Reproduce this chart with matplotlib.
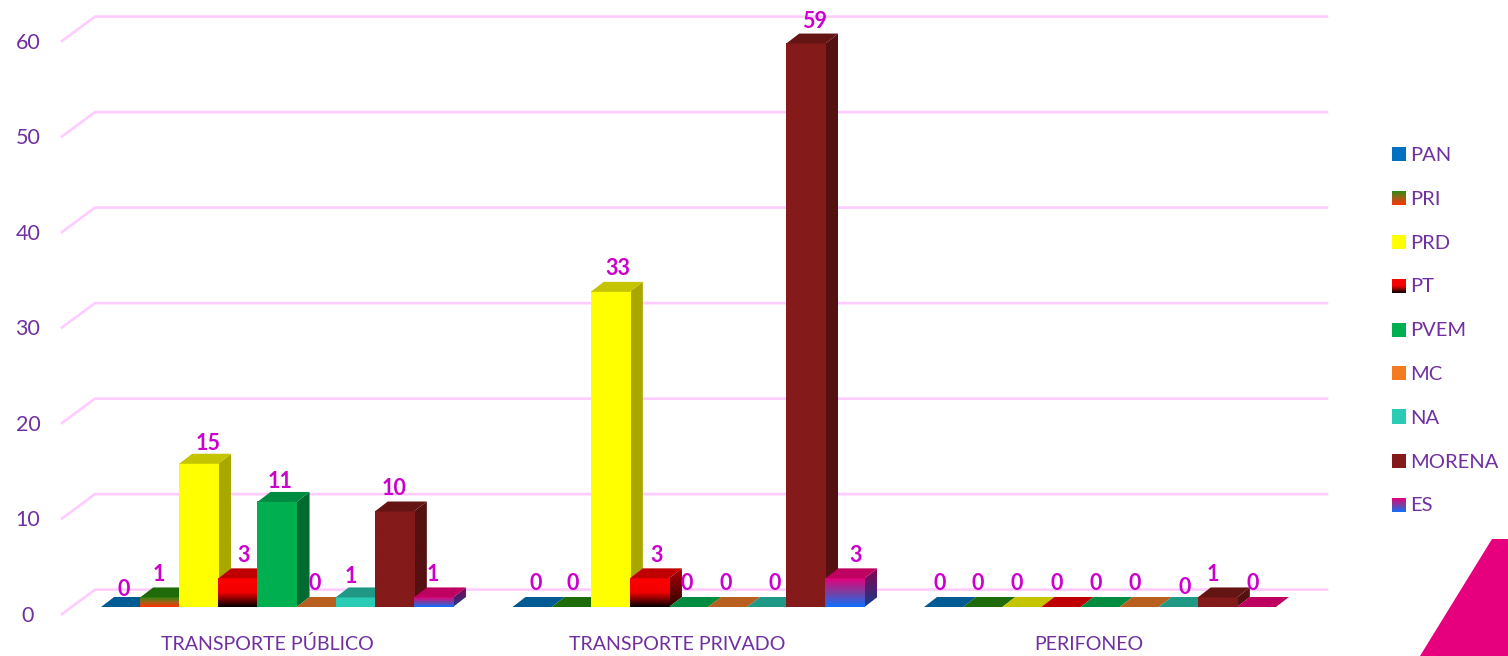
import numpy as np
import matplotlib
matplotlib.use("Agg")
import matplotlib.pyplot as plt
from matplotlib.colors import LinearSegmentedColormap
from matplotlib.patches import Polygon

plt.rcParams['font.family'] = ['Lato', 'DejaVu Sans']

categories = ['TRANSPORTE PÚBLICO', 'TRANSPORTE PRIVADO', 'PERIFONEO']
parties = ['PAN', 'PRI', 'PRD', 'PT', 'PVEM', 'MC', 'NA', 'MORENA', 'ES']
transporte_publico = [0, 1, 15, 3, 11, 0, 1, 10, 1]
transporte_privado = [0, 0, 33, 3, 0, 0, 0, 59, 3]
perifoneo = [0, 0, 0, 0, 0, 0, 0, 1, 0]
y_ticks = [0, 10, 20, 30, 40, 50, 60]

W, H = 1508, 656
PX_X = 411.5      # px per category
PX_Y = 9.55       # px per unit
X0, Y0 = 277, 607  # first category centre, value zero
BAR_W = 39.1 / PX_X
DX = 13 / PX_X    # bar depth
DY = 10 / PX_Y

TEXT = '#7030A0'
LABEL = '#CC00CC'
GRID = '#FFCCFF'

# front colours top to bottom, side colours, top colour
front = {
    'PAN': ['#0070C0'],
    'PRI': ['#2E8B10', '#A06018', '#FF3300'],
    'PRD': ['#FFFF00'],
    'PT': ['#FF0000', '#F00000', '#000000'],
    'PVEM': ['#00B050'],
    'MC': ['#F47B20'],
    'NA': ['#2ACCB5'],
    'MORENA': ['#841A1A'],
    'ES': ['#E6007E', '#7B3FA0', '#0F6FFF'],
}
side = {
    'PAN': ['#005080'],
    'PRI': ['#1F6B0A', '#A02000'],
    'PRD': ['#A8A800'],
    'PT': ['#B00000', '#300000'],
    'PVEM': ['#006B30'],
    'MC': ['#A85818'],
    'NA': ['#1C8C7C'],
    'MORENA': ['#551010'],
    'ES': ['#8B0050', '#143C8A'],
}
top = {
    'PAN': '#005A94', 'PRI': '#1F6B0A', 'PRD': '#C4C400', 'PT': '#C00000',
    'PVEM': '#008C40', 'MC': '#B8601F', 'NA': '#1F9985', 'MORENA': '#651414',
    'ES': '#BE0060',
}


def data_x(px):
    return (px - X0) / PX_X


def data_y(py):
    return (Y0 - py) / PX_Y


def gradient(ax, colors, extent, clip=None, z=3):
    if len(colors) == 1:
        colors = colors * 2
    cmap = LinearSegmentedColormap.from_list('g', colors)
    grad = np.linspace(0, 1, 128).reshape(-1, 1)
    im = ax.imshow(grad, cmap=cmap, extent=extent, aspect='auto', origin='upper',
                   interpolation='bilinear', zorder=z)
    if clip is not None:
        im.set_clip_path(Polygon(clip, transform=ax.transData))
    return im


def bar3d(ax, x, v, name, z):
    x1 = x + BAR_W
    if v > 0:
        # side face first so the next bar covers it
        pts = [(x1, 0), (x1 + DX, DY), (x1 + DX, v + DY), (x1, v)]
        gradient(ax, side[name], (x1, x1 + DX, 0, v + DY), clip=pts, z=z)
        gradient(ax, front[name], (x, x1, 0, v), z=z)
    ax.add_patch(Polygon([(x, v), (x + DX, v + DY), (x1 + DX, v + DY), (x1, v)],
                         facecolor=top[name], edgecolor='none', zorder=z))


fig = plt.figure(figsize=(W / 100, H / 100), dpi=100)
ax = fig.add_axes([0, 0, 1, 1])
ax.axis('off')

# wall and floor lines
wall_x0, wall_x1, grid_x1 = data_x(62), data_x(95), data_x(1327)
for t in y_ticks:
    ax.plot([wall_x0, wall_x1, grid_x1], [t - 0.73, t + 1.82, t + 1.82],
            color=GRID, lw=1.9, zorder=1, solid_joinstyle='miter')
    ax.text(data_x(28), t - 0.92, str(t), color=TEXT, fontsize=15.5,
            ha='center', va='center')

series = [transporte_publico, transporte_privado, perifoneo]
# label nudges in px, default sits just above the bar
nudge_x = [[3, -1, 9, 6, 3, -1, -4, 0, -1],
           [4, 1, 8, 7, -2, -2, 8, 9, 11],
           [-4, -5, -5, -4, -4, -4, 6, -4, -4]]
nudge_y = [[17, 23, 20, 23, 20, 23, 21, 23, 23],
           [23, 23, 23, 23, 23, 23, 23, 22, 23],
           [23, 23, 23, 23, 23, 23, 19, 23, 23]]

z = 3
for c, values in enumerate(series):
    for i, v in enumerate(values):
        x = c + (i - 4.5) * BAR_W
        bar3d(ax, x, v, parties[i], z)
        z += 1
        ax.annotate(str(v), xy=(x + BAR_W / 2, v), xytext=(nudge_x[c][i], nudge_y[c][i]),
                    textcoords='offset pixels', color=LABEL, fontsize=15.5,
                    fontweight='bold', ha='center', va='center', zorder=200)
    ax.text(c - 10 / PX_X - 0.002 * c, data_y(644.5), categories[c], color=TEXT,
            fontsize=14.1, ha='center', va='center')

# legend, built by hand because of the gradient swatches
for i, name in enumerate(parties):
    py = 154.5 + i * 43.8
    gradient(ax, front[name], (data_x(1392), data_x(1406), data_y(py + 7), data_y(py - 7)), z=3)
    ax.text(data_x(1410.5), data_y(py + 1), name, color=TEXT, fontsize=14.5, va='center', ha='left')

# corner shape
ax.add_patch(Polygon([(data_x(1492), data_y(539)), (data_x(1508), data_y(539)),
                      (data_x(1508), data_y(656)), (data_x(1420), data_y(656))],
                     facecolor='#E6007E', edgecolor='none', zorder=2))

ax.set_xlim(data_x(0), data_x(W))
ax.set_ylim(data_y(H), data_y(0))

fig.savefig('out.png', dpi=100, facecolor='white')
